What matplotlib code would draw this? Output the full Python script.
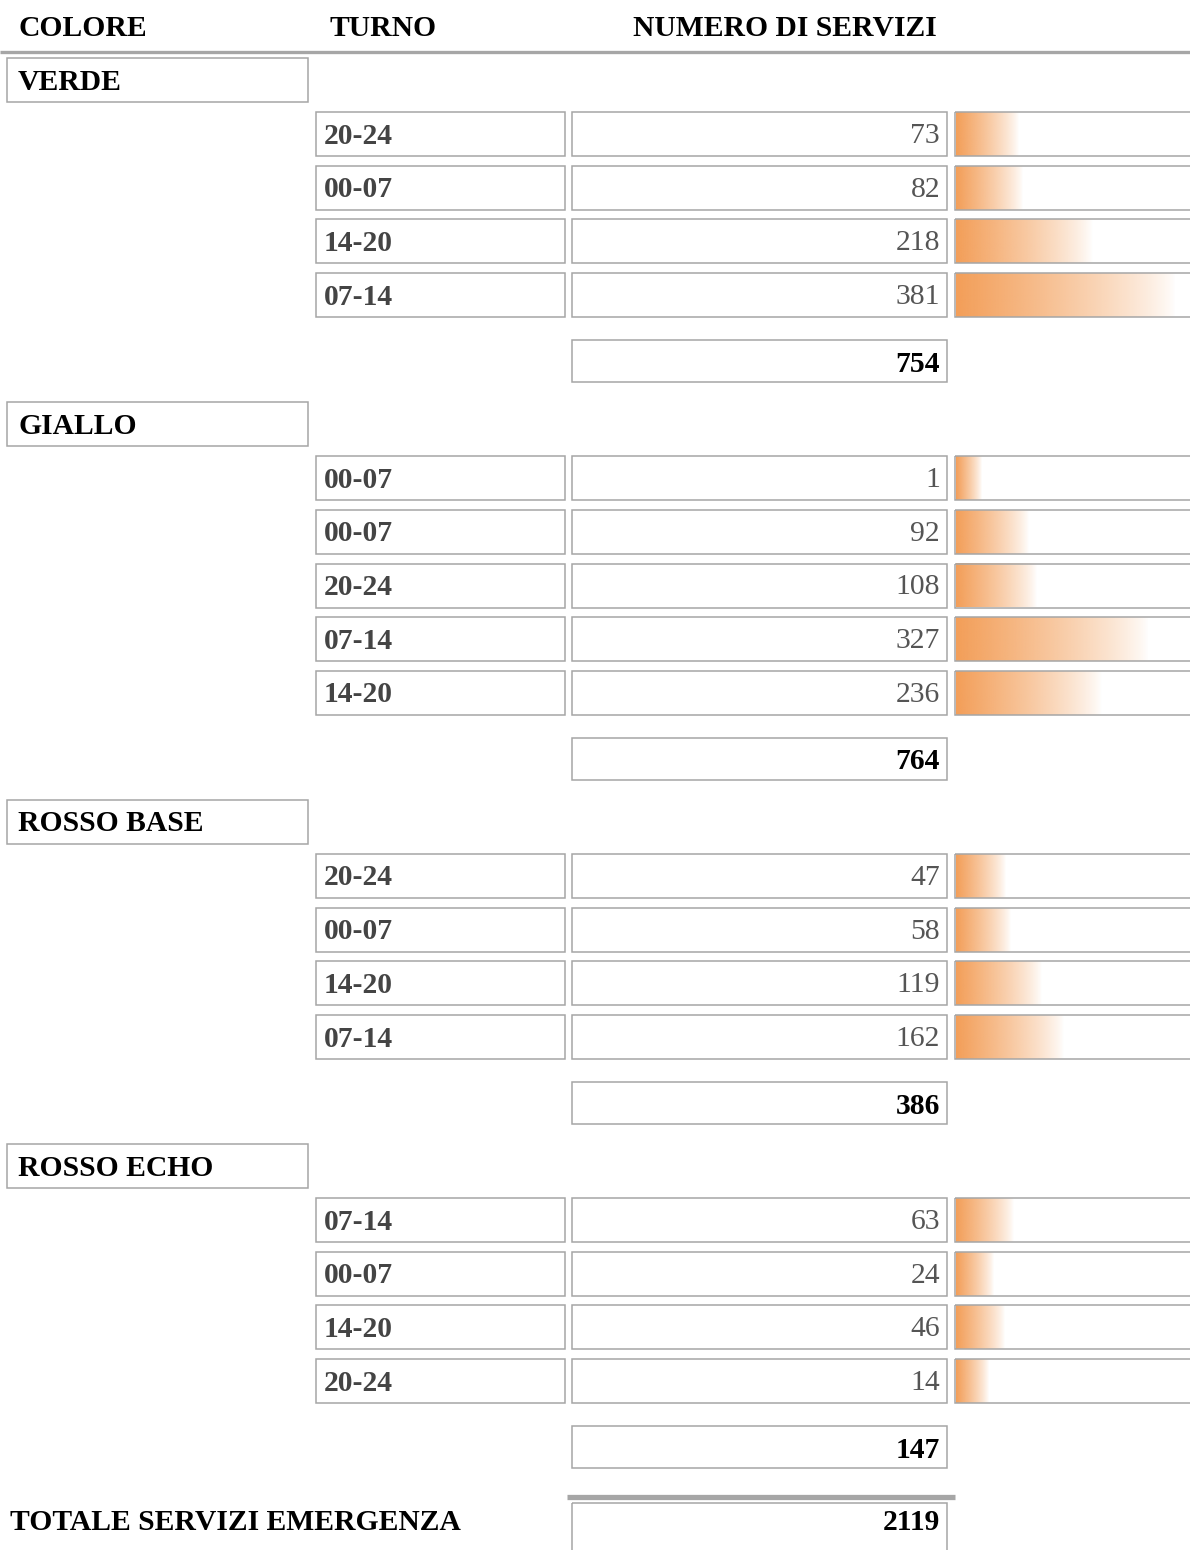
import matplotlib.pyplot as plt
from matplotlib.patches import Rectangle
import numpy as np

# ── data ────────────────────────────────────────────────────────────────
categorie = ["VERDE", "GIALLO", "ROSSO BASE", "ROSSO ECHO"]

turni_verde = ["20-24", "00-07", "14-20", "07-14"]
servizi_verde = [73, 82, 218, 381]

turni_giallo = ["00-07", "00-07", "20-24", "07-14", "14-20"]
servizi_giallo = [1, 92, 108, 327, 236]

turni_rosso_base = ["20-24", "00-07", "14-20", "07-14"]
servizi_rosso_base = [47, 58, 119, 162]

turni_rosso_echo = ["07-14", "00-07", "14-20", "20-24"]
servizi_rosso_echo = [63, 24, 46, 14]

subtotali = [754, 764, 386, 147]
totale_label = "TOTALE SERVIZI EMERGENZA"
totale = 2119

header = ["COLORE", "TURNO", "NUMERO DI SERVIZI"]

gruppi = [
    (turni_verde, servizi_verde),
    (turni_giallo, servizi_giallo),
    (turni_rosso_base, servizi_rosso_base),
    (turni_rosso_echo, servizi_rosso_echo),
]

# ── style ───────────────────────────────────────────────────────────────
FONT = "Liberation Serif"
FS = 21.3
BORDER = "#a6a6a6"
ORANGE = np.array([243, 158, 88]) / 255.0

W, H = 1190, 1550
fig = plt.figure(figsize=(W / 100, H / 100), dpi=100)
ax = fig.add_axes([0, 0, 1, 1])
ax.set_xlim(0, W)
ax.set_ylim(H, 0)
ax.axis("off")

# gradient strip: orange on the left, fading out to the right
grad = np.zeros((1, 256, 4))
grad[..., :3] = ORANGE
grad[..., 3] = np.linspace(1.0, 0.0, 256) ** 0.8

max_val = max(max(s) for _, s in gruppi)


def box(x0, y0, w, h, lw=1.1):
    ax.add_patch(Rectangle((x0, y0), w, h, fill=False, edgecolor=BORDER,
                           lw=lw, zorder=3))


def bar_len(v):
    return 25 + v / max_val * 195


# ── header ─────────────────────────────────────────────────────────────
for txt, x in zip(header, [18, 330, 633]):
    ax.text(x, 28, txt, fontsize=FS, fontweight="bold", family=FONT,
            color="black", va="center", ha="left")
ax.plot([0, W], [52, 52], color=BORDER, lw=2.4, solid_capstyle="butt")

# ── groups ─────────────────────────────────────────────────────────────
ROW_H = 44
ROW_STEP = 53.7
y = 58
for cat, (turni, servizi), sub in zip(categorie, gruppi, subtotali):
    box(7, y, 301, ROW_H)
    ax.text(18, y + ROW_H / 2 + 2, cat, fontsize=FS, fontweight="bold",
            family=FONT, color="black", va="center")
    yr = y + 54
    for t, v in zip(turni, servizi):
        box(316, yr, 249, ROW_H)
        box(572, yr, 375, ROW_H)
        box(955, yr, 260, ROW_H)
        ax.text(324, yr + ROW_H / 2 + 2, t, fontsize=FS, fontweight="bold",
                family=FONT, color="#444444", va="center")
        ax.text(940, yr + ROW_H / 2 + 2, str(v), fontsize=FS,
                family=FONT, color="#555555", va="center", ha="right")
        ax.imshow(grad, extent=[956, 956 + bar_len(v), yr + ROW_H, yr],
                  aspect="auto", interpolation="bilinear", zorder=2)
        yr += ROW_STEP
    ys = yr - ROW_STEP + ROW_H + 23
    box(572, ys, 375, 42)
    ax.text(940, ys + 24, str(sub), fontsize=FS, fontweight="bold",
            family=FONT, color="black", va="center", ha="right")
    y = ys + 62

# ── grand total ────────────────────────────────────────────────────────
ax.plot([567, 955], [1497, 1497], color=BORDER, lw=3.8,
        solid_capstyle="butt")
box(572, 1503, 375, 80)
ax.text(10, 1522, totale_label, fontsize=FS, fontweight="bold",
        family=FONT, color="black", va="center")
ax.text(940, 1522, str(totale), fontsize=FS, fontweight="bold",
        family=FONT, color="black", va="center", ha="right")

ax.set_xlim(0, W)
ax.set_ylim(H, 0)
fig.savefig("out.png", dpi=100, facecolor="white")
